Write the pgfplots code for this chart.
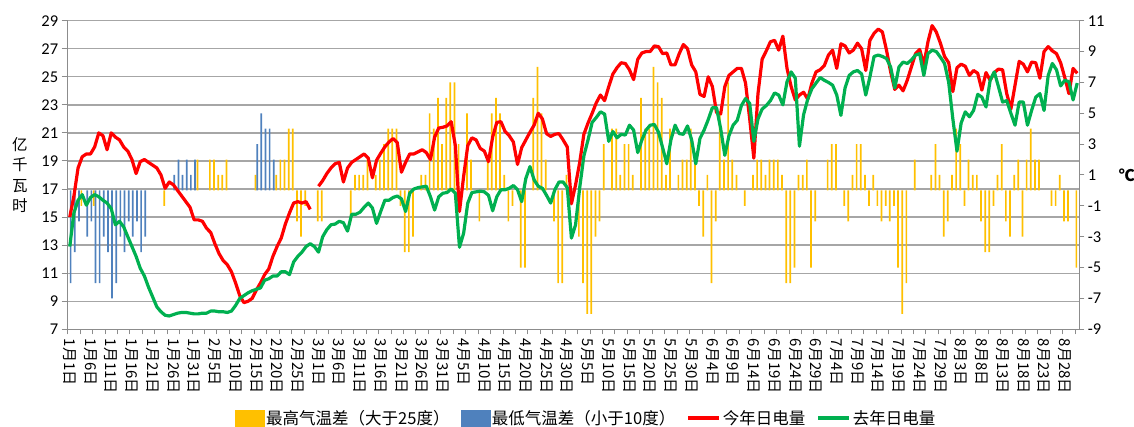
\documentclass[border=0pt]{standalone}
\usepackage{pgfplots}
\pgfplotsset{compat=1.18}
\usepackage{pgfplotstable}
\usepackage{fontspec}
\setmainfont{Carlito}
\newfontfamily\cjk{Noto Sans CJK SC}
\definecolor{ycol}{HTML}{FFC000}
\definecolor{bcol}{HTML}{4F81BD}
\definecolor{rcol}{HTML}{FF0000}
\definecolor{gcol}{HTML}{00B050}
\definecolor{gridc}{HTML}{A6A6A6}
\definecolor{axc}{HTML}{8C8C8C}

\pgfplotstableread{
i r g
0 15.0 12.9
1 16.5 15.3
2 18.5 16.2
3 19.3 16.6
4 19.5 15.85
5 19.5 16.4
6 20.0 16.6
7 21.0 16.45
8 20.8 16.2
9 19.8 16.0
10 21.0 15.6
11 20.7 14.45
12 20.5 14.7
13 20.0 14.3
14 19.7 13.6
15 19.1 12.9
16 18.1 12.2
17 18.95 11.35
18 19.1 10.8
19 18.9 10.0
20 18.7 9.3
21 18.5 8.6
22 18.0 8.25
23 17.05 8.0
24 17.5 7.95
25 17.3 8.05
26 16.9 8.15
27 16.5 8.2
28 16.1 8.2
29 15.7 8.15
30 14.8 8.1
31 14.8 8.1
32 14.7 8.15
33 14.2 8.15
34 13.9 8.3
35 13.1 8.3
36 12.4 8.25
37 11.9 8.25
38 11.6 8.2
39 11.1 8.3
40 10.3 8.7
41 9.4 9.2
42 8.9 9.4
43 9.0 9.6
44 9.2 9.75
45 9.8 9.85
46 10.3 9.95
47 10.9 10.5
48 11.3 10.6
49 12.2 10.8
50 12.9 10.8
51 13.5 11.1
52 14.5 11.1
53 15.3 10.9
54 16.0 11.8
55 16.1 12.2
56 16.0 12.5
57 16.1 12.9
58 15.55 13.1
59 nan 12.9
60 17.2 12.5
61 17.6 13.6
62 18.1 14.1
63 18.5 14.45
64 18.8 14.5
65 18.9 14.7
66 17.5 14.6
67 18.5 14.0
68 18.9 15.2
69 19.1 15.2
70 19.3 15.35
71 19.5 15.7
72 19.2 16.0
73 17.8 15.65
74 19.05 14.55
75 19.55 15.4
76 20.0 16.2
77 20.35 16.2
78 20.6 16.4
79 20.3 16.5
80 18.2 16.3
81 18.9 15.4
82 19.5 16.7
83 19.5 17.0
84 19.65 17.1
85 19.8 17.15
86 19.6 17.2
87 19.1 16.45
88 20.7 15.5
89 21.35 16.45
90 21.4 16.7
91 21.5 16.75
92 21.8 17.0
93 20.1 16.7
94 15.4 12.85
95 17.9 13.85
96 20.1 16.0
97 20.65 16.75
98 20.5 16.8
99 19.9 16.85
100 19.7 16.8
101 18.95 16.55
102 20.7 15.45
103 21.75 16.45
104 21.8 16.95
105 21.1 16.95
106 20.8 17.05
107 20.35 17.25
108 18.75 16.95
109 19.95 16.1
110 20.5 17.75
111 21.05 18.6
112 21.55 17.65
113 22.4 17.2
114 22.0 17.05
115 20.95 16.55
116 20.75 16.0
117 20.9 16.95
118 20.95 17.5
119 20.5 17.5
120 20.0 17.1
121 15.95 13.5
122 17.3 14.45
123 18.9 17.1
124 20.9 19.35
125 21.7 20.5
126 22.4 21.75
127 23.15 22.1
128 23.7 22.5
129 23.3 22.35
130 24.3 20.4
131 25.2 21.1
132 25.65 20.65
133 26.0 20.9
134 25.95 20.85
135 25.5 21.55
136 24.8 21.2
137 26.25 19.6
138 26.7 20.5
139 26.8 21.2
140 26.8 21.55
141 27.2 21.6
142 27.15 21.05
143 26.65 19.95
144 26.7 18.8
145 25.85 20.5
146 25.85 21.55
147 26.65 20.95
148 27.3 20.9
149 27.0 21.5
150 25.85 20.5
151 25.35 18.8
152 23.75 20.6
153 23.6 21.2
154 25.0 21.95
155 24.3 22.8
156 22.45 22.8
157 22.35 21.3
158 24.3 19.4
159 25.1 20.8
160 25.35 21.55
161 25.6 21.9
162 25.6 22.95
163 24.55 23.45
164 22.0 23.1
165 19.2 20.4
166 23.8 22.0
167 26.25 22.7
168 26.85 22.95
169 27.5 23.3
170 27.6 23.85
171 26.9 23.7
172 27.9 23.0
173 25.6 24.65
174 24.3 25.35
175 23.35 24.9
176 23.7 20.05
177 23.9 22.3
178 23.4 23.4
179 24.55 24.15
180 25.35 24.55
181 25.5 24.95
182 25.8 24.75
183 26.55 24.6
184 26.9 24.4
185 25.6 23.7
186 27.35 22.25
187 27.2 24.2
188 26.7 25.1
189 26.9 25.35
190 27.4 25.45
191 27.0 25.2
192 25.45 23.7
193 27.6 25.0
194 28.1 26.45
195 28.4 26.55
196 28.2 26.45
197 26.9 26.3
198 25.35 25.7
199 24.1 24.2
200 24.4 25.7
201 24.0 26.05
202 24.75 25.95
203 25.7 26.2
204 26.65 26.55
205 26.95 26.65
206 25.85 25.1
207 27.5 26.65
208 28.65 26.9
209 28.2 26.8
210 27.4 26.4
211 26.45 25.95
212 26.0 24.6
213 23.95 22.0
214 25.65 19.7
215 25.9 21.7
216 25.75 22.5
217 25.1 22.15
218 25.45 22.6
219 25.25 23.75
220 24.05 23.55
221 25.3 22.85
222 24.75 24.75
223 25.3 25.35
224 25.55 24.3
225 25.5 23.2
226 23.8 23.3
227 22.7 22.4
228 24.4 21.55
229 26.1 23.2
230 25.9 23.2
231 25.35 21.55
232 26.05 22.6
233 26.0 23.55
234 24.9 23.8
235 26.8 22.6
236 27.15 25.1
237 26.85 25.95
238 26.65 25.5
239 26.0 24.35
240 24.95 24.75
241 23.8 24.65
242 25.6 23.35
243 25.25 24.55
}\lines

\begin{document}
\begin{tikzpicture}
\useasboundingbox (-67.7pt,-97.7pt) rectangle (1066.3pt,329.3pt);
\pgfplotsset{base/.style={at={(0pt,0pt)}, anchor=south west, scale only axis,
  width=1011.6pt, height=308.6pt, xmin=-0.5, xmax=243.5,
  /pgf/number format/assume math mode=true}}
% ---------- axis A: grid, left axis, x axis
\begin{axis}[base, ymin=7, ymax=29, ytick={7,9,...,29},
  axis x line*=bottom, axis y line*=left,
  ymajorgrids, grid style={gridc, line width=1.3pt},
  axis line style={axc, line width=1.3pt, -},
  tick align=outside, major tick length=6pt, minor tick length=5pt,
  tick style={axc, line width=1pt},
  major x tick style={draw=none},
  xtick={0,5,...,240},
  minor xtick={-0.5,2.5,...,242.5},
  xticklabels={1月1日,1月6日,1月11日,1月16日,1月21日,1月26日,1月31日,2月5日,2月10日,2月15日,2月20日,2月25日,3月1日,3月6日,3月11日,3月16日,3月21日,3月26日,3月31日,4月5日,4月10日,4月15日,4月20日,4月25日,4月30日,5月5日,5月10日,5月15日,5月20日,5月25日,5月30日,6月4日,6月9日,6月14日,6月19日,6月24日,6月29日,7月4日,7月9日,7月14日,7月19日,7月24日,7月29日,8月3日,8月8日,8月13日,8月18日,8月23日,8月28日},
  xticklabel style={rotate=-90, anchor=west, font=\cjk\fontsize{15}{15}\selectfont},
  yticklabel style={font=\fontsize{16.5}{17}\selectfont},
  ylabel={亿\\千\\瓦\\时},
  every axis y label/.style={at={(axis description cs:-0.0472,0.5)}, anchor=center, align=center,
    font=\cjk\fontsize{15.5}{20.5}\selectfont},
]
\addplot[draw=none] coordinates {(0,7)};
\end{axis}
% ---------- axis B: bars, right axis
\begin{axis}[base, ymin=-9, ymax=11, ytick={-9,-7,...,11},
  axis y line*=right, axis x line=none,
  axis line style={axc, line width=1.3pt, -},
  tick align=outside, major tick length=5pt,
  tick style={axc, line width=1pt},
  yticklabel style={font=\fontsize{16.5}{17}\selectfont, anchor=west},
  ylabel={℃},
  every axis y label/.style={at={(axis description cs:1.047,0.5)}, anchor=center,
    font=\cjk\bfseries\fontsize{16}{17}\selectfont},
]
\addplot[ybar, bar width=1.7pt, bar shift=-0.85pt, fill=ycol, draw=none] coordinates {
(3,-1)(6,-1)(23,-1)(31,2)(34,2)(35,2)(36,1)(37,1)(38,2)(45,1)(50,1)(51,2)(52,2)(53,4)(54,4)
(55,-2)(56,-3)(57,-1)(60,-2)(61,-2)(68,-2)(69,1)(70,1)(71,1)(72,2)(74,1)(75,2)(76,3)(77,4)
(78,4)(79,4)(80,-1)(81,-4)(82,-4)(83,-3)(85,1)(86,1)(87,5)(88,4)(89,6)(90,3)(91,6)(92,7)
(93,7)(94,3)(96,5)(97,2)(99,-2)(101,2)(102,5)(103,6)(104,5)(105,1)(106,-2)(107,-1)(109,-5)
(110,-5)(112,6)(113,8)(114,5)(115,2)(117,-2)(118,-6)(119,-6)(120,1)(123,-3)(124,-6)(125,-8)
(126,-8)(127,-3)(128,-2)(129,3)(131,4)(132,4)(133,1)(134,3)(135,3)(136,1)(138,6)(139,4)
(140,4)(141,8)(142,7)(143,6)(144,1)(145,4)(147,1)(148,2)(149,2)(150,4)(151,2)(152,-1)
(153,-3)(154,1)(155,-6)(156,-2)(157,5)(158,2)(159,7)(160,2)(161,1)(163,-1)(165,1)(166,2)
(167,2)(168,1)(169,2)(170,2)(171,2)(172,1)(173,-6)(174,-6)(175,-5)(176,1)(177,1)(178,2)
(179,-5)(180,-2)(183,2)(184,3)(185,3)(187,-1)(188,-2)(189,1)(190,3)(191,3)(192,1)(193,-1)
(194,1)(195,-1)(196,-2)(197,-1)(198,-2)(199,-1)(200,-5)(201,-8)(202,-6)(204,2)(208,1)
(209,3)(210,1)(211,-3)(212,-2)(213,1)(214,4)(215,3)(216,-1)(217,2)(218,1)(219,1)(220,-2)
(221,-4)(222,-4)(223,-1)(224,1)(225,3)(226,-2)(227,-3)(228,1)(229,2)(230,-3)(231,2)(232,4)
(233,2)(234,2)(237,-1)(238,-1)(239,1)(240,-2)(241,-2)(243,-5)};
\addplot[ybar, bar width=1.7pt, bar shift=0.85pt, fill=bcol, draw=none] coordinates {
(0,-6)(1,-4)(2,-2)(4,-3)(5,-2)(6,-6)(7,-6)(8,-3)(9,-4)(10,-7)(11,-6)(12,-3)(13,-4)(14,-2)
(15,-3)(16,-2)(17,-4)(18,-3)(25,1)(26,2)(27,1)(28,2)(29,1)(30,2)(45,3)(46,5)(47,4)(48,4)(49,2)};
\end{axis}
% ---------- axis C: lines and legend
\begin{axis}[base, ymin=7, ymax=29, hide axis, unbounded coords=jump,
  legend columns=4,
  legend style={at={(axis description cs:0.5124,-0.287)}, anchor=center, draw=none, fill=none,
    font=\cjk\fontsize{16.5}{16.5}\selectfont,
    /tikz/every even column/.append style={column sep=9pt}},
]
\addlegendimage{legend image code/.code={\fill[ycol] (0pt,-8pt) rectangle (29pt,8pt);}}
\addlegendentry{最高气温差（大于25度）}
\addlegendimage{legend image code/.code={\fill[bcol] (0pt,-8pt) rectangle (29pt,8pt);}}
\addlegendentry{最低气温差（小于10度）}
\addplot[rcol, line width=3.2pt, line join=round,
  legend image code/.code={\draw[rcol, line width=3.5pt] (0pt,0pt) -- (31pt,0pt);}]
  table[x=i, y=r] {\lines};
\addlegendentry{今年日电量}
\addplot[gcol, line width=3.2pt, line join=round,
  legend image code/.code={\draw[gcol, line width=3.5pt] (0pt,0pt) -- (31pt,0pt);}]
  table[x=i, y=g] {\lines};
\addlegendentry{去年日电量}
\end{axis}
\end{tikzpicture}
\end{document}
